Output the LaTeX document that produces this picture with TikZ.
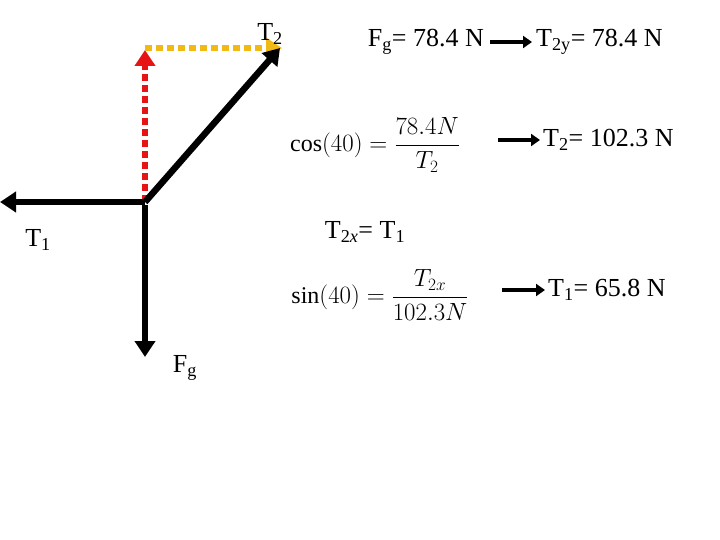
\documentclass[tikz,border=0pt]{standalone}
\usepackage{amsmath}
\usepackage{fontspec}
\setmainfont{Liberation Serif}
\usetikzlibrary{arrows.meta}
\definecolor{myred}{RGB}{230,20,20}
\definecolor{myyel}{RGB}{240,185,20}
\begin{document}
\begin{tikzpicture}[x=1pt,y=-1pt,
  vec/.style={line width=6.5pt,-{Triangle[length=16pt,width=20pt]}},
  small/.style={line width=3.5pt,-{Triangle[length=9pt,width=12pt]}},
  lbl/.style={font=\fontsize{26}{28}\selectfont,inner sep=0pt},
  eq/.style={font=\fontsize{24}{28}\selectfont,inner sep=0pt}]
\useasboundingbox (0,0) rectangle (720,540);
\coordinate (o) at (145,202);
\coordinate (l) at (0,202);
\coordinate (d) at (145,357);
\coordinate (t) at (280,48);
\coordinate (rt) at (145,50);
\coordinate (yl) at (145,48);
\coordinate (yr) at (282,48);
\draw[myred,line width=6pt,dash pattern=on 7pt off 4pt,-{Triangle[length=16pt,width=20pt]}] (o) -- (rt);
\draw[myyel,line width=6pt,dash pattern=on 7pt off 4pt,-{Triangle[length=16pt,width=20pt]}] (yl) -- (yr);
\draw[vec] (o) -- (l);
\draw[vec] ([yshift=-3pt]o) -- (d);
\draw[vec] (o) -- (t);
\node[lbl] (T2) at (270,34) {T\textsubscript{2}};
\node[lbl] (T1) at (38,240) {T\textsubscript{1}};
\node[lbl] (Fg) at (185,368) {F\textsubscript{g}};
\node[lbl,anchor=east] (fg) at (484,42) {F\textsubscript{g}= 78.4 N};
\node[lbl,anchor=west] (t2y) at (536,42) {T\textsubscript{2y}= 78.4 N};
\draw[small] ([xshift=6pt]fg.east) -- ([xshift=-4pt]t2y.west);
\node[eq] (cos) at (375,145) {$\cos(40)=\dfrac{78.4N}{T_2}$};
\node[lbl,anchor=west] (t2) at (543,140) {T\textsubscript{2}= 102.3 N};
\draw[small] ([xshift=-45pt]t2.west) -- ([xshift=-3pt]t2.west);
\node[lbl] (t2x) at (365,232) {T\textsubscript{2\textit{x}}= T\textsubscript{1}};
\node[eq] (sin) at (380,295) {$\sin(40)=\dfrac{T_{2x}}{102.3N}$};
\node[lbl,anchor=west] (t1) at (548,290) {T\textsubscript{1}= 65.8 N};
\draw[small] ([xshift=-46pt]t1.west) -- ([xshift=-3pt]t1.west);
\end{tikzpicture}
\end{document}
